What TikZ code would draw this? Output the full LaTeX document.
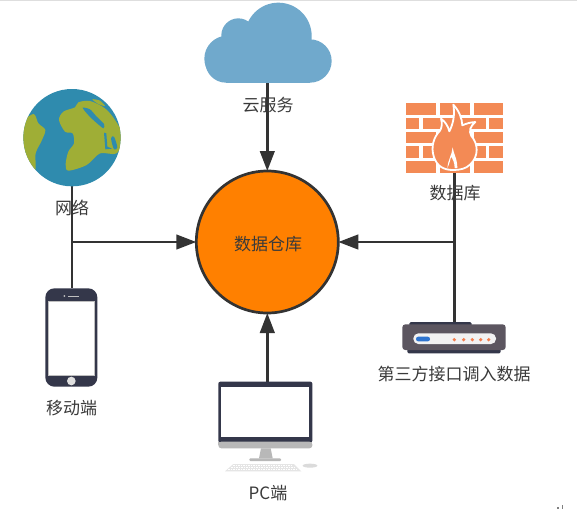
\documentclass[tikz,border=0pt]{standalone}
\usepackage{fontspec}
\setmainfont{Noto Sans CJK SC}
\usetikzlibrary{arrows.meta}
\definecolor{ink}{HTML}{333333}
\definecolor{hubfill}{HTML}{FF8000}
\definecolor{skyblue}{HTML}{70A9CC}
\definecolor{seablue}{HTML}{2F8BAE}
\definecolor{landgreen}{HTML}{9FAE36}
\definecolor{devdark}{HTML}{34374A}
\definecolor{brick}{HTML}{F38A55}
\definecolor{routerbody}{HTML}{5C5660}
\definecolor{labelgrey}{HTML}{3A3A3A}
\definecolor{ledblue}{HTML}{2E74CF}
\tikzset{
  anchorbox/.style={inner sep=0pt,outer sep=0pt,minimum width=#1},
  lab/.style={font=\fontsize{17pt}{19pt}\selectfont,text=labelgrey,inner sep=0pt},
  link/.style={draw=ink,line width=2.7pt},
  arrowlink/.style={link,-{Triangle[length=20pt,width=14.5pt]}},
}
\begin{document}
\begin{tikzpicture}[x=1pt,y=-1pt]
\useasboundingbox (0,0) rectangle (577,509);
\fill[white] (0,0) rectangle (577,509);
\fill[black!13] (0,0) rectangle (577,1.2);
\fill[black!50] (557,507) rectangle (559,509);
\fill[black!50] (561.6,505) rectangle (562.8,509);
% anchor nodes
\node[circle,draw=ink,line width=2.7pt,fill=hubfill,minimum size=142pt,inner sep=0pt,outer sep=0pt] (hub) at (267.3,242) {};
\node[anchorbox=98pt,circle,minimum size=97.5pt] (globe) at (72,137.7) {};
\node[anchorbox=52pt,minimum height=98.7pt] (phone) at (71.3,337.4) {};
\node[anchorbox=94pt,minimum height=67pt] (pc) at (265.3,415) {};
\node[anchorbox=103.4pt,minimum height=31.3pt] (router) at (454,337.7) {};
\node[anchorbox=97.6pt,minimum height=69.4pt] (wall) at (454.5,138) {};
\node[anchorbox=127pt,minimum height=80pt] (cloud) at (268,42.7) {};
\coordinate (jl) at (globe.south |- hub.west);
\coordinate (jr) at (wall.south |- hub.east);
\coordinate (pcin) at (hub.south |- pc.north);
\coordinate (cloudout) at (hub.north |- cloud.south);
% connectors
\draw[link] (globe.south) -- (globe.south |- phone.north);
\draw[arrowlink] (jl) -- (hub.west);
\draw[link] (wall.south) -- (wall.south |- router.north);
\draw[arrowlink] (jr) -- (hub.east);
\draw[arrowlink] (cloudout) -- (hub.north);
\draw[arrowlink] (pcin) -- (hub.south);
% cloud
\begin{scope}[shift={(190,0)},scale=1/3]
\fill[skyblue] (265,108) circle[radius=100];
\fill[skyblue] (145,106) circle[radius=51];
\fill[skyblue] (112,176) circle[radius=69];
\fill[skyblue] (108,186) circle[radius=62];
\fill[skyblue] (360,183) circle[radius=65];
\fill[skyblue] (108,130) rectangle (360,248);
\end{scope}
% globe
\begin{scope}[shift={(0,70)},scale=1/3]
\fill[seablue] (216,203) circle[radius=146];
\clip (216,203) circle[radius=146];
\fill[landgreen] plot[smooth cycle] coordinates {(60,170) (100,132) (115,160) (136,180) (125,212) (107,250) (105,300) (70,260)};
\fill[landgreen] plot[smooth cycle,tension=0.5] coordinates {(177,150) (190,125) (225,112) (235,97) (270,93) (315,115) (345,150) (370,200) (350,250) (300,250) (260,285) (205,302) (197,282) (205,245) (222,220) (218,190) (195,185)};
\fill[seablue] plot[smooth cycle,tension=0.4] coordinates {(248,113) (270,118) (290,140) (312,162) (310,175) (282,152) (262,132)};
\fill[seablue] (312,188) -- (319,190) -- (322,230) -- (336,236) -- (316,238) -- cycle;
\fill[seablue] plot[smooth cycle] coordinates {(333,205) (342,200) (352,232) (342,238)};
\fill[landgreen] plot[smooth cycle] coordinates {(277,88) (300,92) (315,108) (295,102)};
\end{scope}
% phone
\begin{scope}[shift={(20,270)},scale=1/3]
\fill[devdark,rounded corners=9pt] (76,55) rectangle (232,350);
\fill[black!25] (85,94) rectangle (224,319);
\fill[white] (88,97) rectangle (221,316);
\fill[black!25] (133,78) circle[radius=3];
\fill[black!25] (145,76.5) rectangle (178,80.5);
\fill[black!12] (154,333) circle[radius=13];
\end{scope}
% pc
\begin{scope}[shift={(190,370)},scale=1/3]
\fill[devdark,rounded corners=2pt] (85,35) rectangle (367,218);
\fill[white] (93,50) rectangle (358,202);
\fill[black!28,rounded corners=3pt] (85,215) rectangle (367,235);
\fill[black!28] (85,215) rectangle (367,225);
\fill[black!28] (213,235) -- (242,235) -- (248,265) -- (207,265) -- cycle;
\fill[black!28,rounded corners=1pt] (178,265) rectangle (273,273);
\fill[black!10] (130,282) -- (312,282) -- (334,304) -- (105,304) -- cycle;
\foreach \r/\a/\b in {287/130/308,293/123/316,299/115/324}
  \draw[white,line width=0.9pt,dash pattern=on 1.5pt off 1pt] (\a,\r) -- (\b,\r);
\fill[black!14] (360,287) ellipse[x radius=22,y radius=6];
\end{scope}
% router
\begin{scope}[shift={(370,300)},scale=1/3]
\fill[devdark,rounded corners=1.5pt] (118,66) rectangle (305,85);
\fill[devdark,rounded corners=1.5pt] (112,135) rectangle (392,160);
\fill[routerbody,rounded corners=3pt] (97,73) rectangle (407,150);
\fill[black!5,rounded corners=5pt] (130,100) rectangle (378,132);
\fill[ledblue,rounded corners=2.2pt] (138,110) rectangle (180,124);
\foreach \x in {253,281,307,332,356} \fill[brick!90!red] (\x,119) circle[radius=5.5];
\end{scope}
% firewall
\begin{scope}[shift={(390,90)},scale=1/3]
\foreach \t/\b in {40/74,126/160,212/248}{
  \fill[brick] (47,\t) rectangle (138,\b);
  \fill[brick] (150,\t) rectangle (240,\b);
  \fill[brick] (252,\t) rectangle (340,\b);
}
\foreach \t/\b in {83/117,169/203}{
  \fill[brick] (47,\t) rectangle (87,\b);
  \fill[brick] (98,\t) rectangle (190,\b);
  \fill[brick] (200,\t) rectangle (288,\b);
  \fill[brick] (298,\t) rectangle (340,\b);
}
\filldraw[brick,draw=white,line width=1.8pt,line join=round]
  (190,44) .. controls (207,62) and (216,85) .. (217,106)
  .. controls (228,101) and (240,97) .. (256,96)
  .. controls (240,110) and (236,122) .. (244,138)
  .. controls (264,160) and (268,198) .. (240,224)
  .. controls (228,236) and (210,240) .. (190,240)
  .. controls (162,240) and (142,230) .. (132,202)
  .. controls (121,170) and (132,140) .. (150,122)
  .. controls (156,112) and (157,100) .. (153,86)
  .. controls (165,94) and (174,108) .. (178,124)
  .. controls (190,100) and (195,75) .. (190,44) -- cycle;
\fill[white] (188,172) .. controls (190,190) and (202,205) .. (202,234)
  -- (194,234) .. controls (194,218) and (188,206) .. (183,200)
  .. controls (180,212) and (178,224) .. (172,234)
  .. controls (172,214) and (186,195) .. (188,172) -- cycle;
\end{scope}
% labels
\node[lab] (lcloud) at (268,105) {云服务};
\node[lab] (lglobe) at (72,208) {网络};
\node[lab] (lwall) at (455,193) {数据库};
\node[lab] (lhub) at (268,244) {数据仓库};
\node[lab] (lrouter) at (454,374) {第三方接口调入数据};
\node[lab] (lphone) at (71.5,408) {移动端};
\node[lab] (lpc) at (268,493) {PC端};
\end{tikzpicture}
\end{document}
